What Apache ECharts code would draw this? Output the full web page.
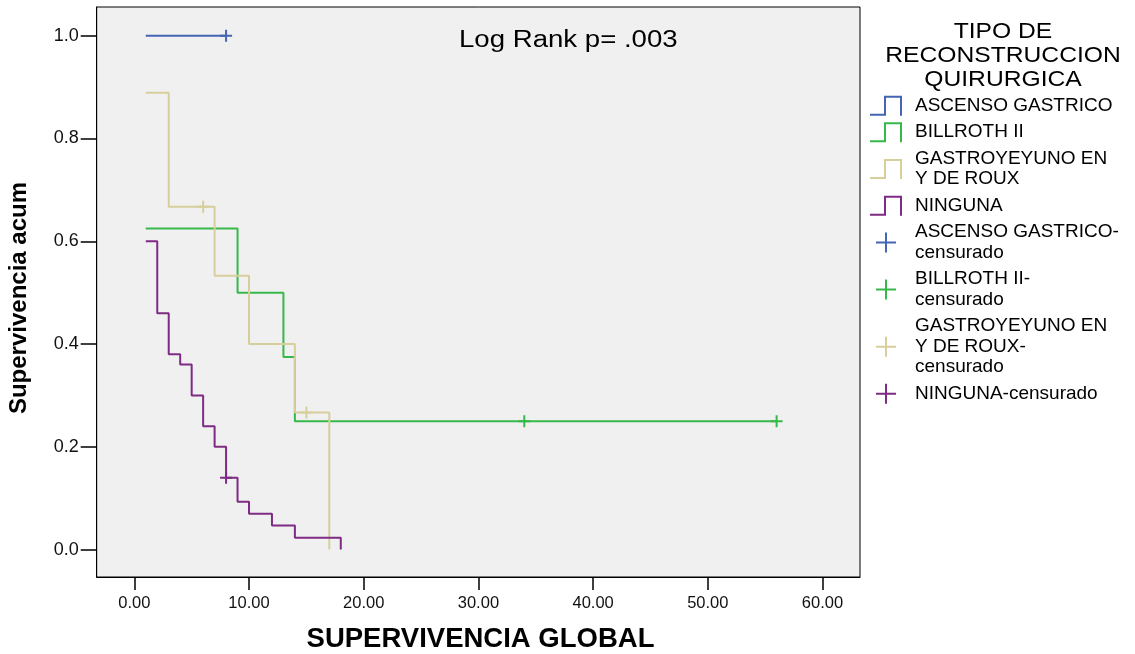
<!DOCTYPE html>
<html>
<head>
<meta charset="utf-8">
<title>Supervivencia por tipo de reconstrucción quirúrgica</title>
<script src="https://cdn.jsdelivr.net/npm/echarts@6/dist/echarts.min.js"></script>
<style>
  html, body { margin: 0; padding: 0; background: #ffffff; }
  #chart { width: 1135px; height: 654px; }
</style>
</head>
<body>
<div id="chart"></div>
<script>
// Kaplan-Meier step curves: each time point starts a new survival level
const groupNames = ['ASCENSO GASTRICO', 'BILLROTH II', 'GASTROYEYUNO EN\nY DE ROUX', 'NINGUNA'];
const censorNames = ['ASCENSO GASTRICO-\ncensurado', 'BILLROTH II-\ncensurado', 'GASTROYEYUNO EN\nY DE ROUX-\ncensurado', 'NINGUNA-censurado'];

const ascensoTime = [1, 8];
const ascensoSurv = [1.0, 1.0];
const ascensoCensorTime = [8];
const ascensoCensorSurv = [1.0];

const billrothTime = [1, 9, 13, 14, 56];
const billrothSurv = [0.625, 0.5, 0.375, 0.25, 0.25];
const billrothCensorTime = [34, 56];
const billrothCensorSurv = [0.25, 0.25];

const rouxTime = [1, 3, 7, 10, 14, 17];
const rouxSurv = [0.889, 0.667, 0.533, 0.4, 0.267, 0];
const rouxCensorTime = [6, 15];
const rouxCensorSurv = [0.667, 0.267];

const ningunaTime = [1, 2, 3, 4, 5, 6, 7, 8, 9, 10, 12, 14, 18];
const ningunaSurv = [0.6, 0.46, 0.38, 0.36, 0.30, 0.24, 0.20, 0.14, 0.093, 0.07, 0.047, 0.023, 0];
const ningunaCensorTime = [8];
const ningunaCensorSurv = [0.14];

const xTicks = [0, 10, 20, 30, 40, 50, 60];
const yTicks = [0, 0.2, 0.4, 0.6, 0.8, 1.0];

const pValueText = 'Log Rank p= .003';
const legendTitle = 'TIPO DE\nRECONSTRUCCION\nQUIRURGICA';
const xTitle = 'SUPERVIVENCIA GLOBAL';
const yTitle = 'Supervivencia acum';

const colors = ['#4464b4', '#36b94a', '#d6cf9c', '#7d2b83'];
const FONT = '"Liberation Sans", Arial, Helvetica, sans-serif';

const curves = [
  [ascensoTime, ascensoSurv, ascensoCensorTime, ascensoCensorSurv],
  [billrothTime, billrothSurv, billrothCensorTime, billrothCensorSurv],
  [rouxTime, rouxSurv, rouxCensorTime, rouxCensorSurv],
  [ningunaTime, ningunaSurv, ningunaCensorTime, ningunaCensorSurv]
];

const zip = (a, b) => a.map((v, i) => [v, b[i]]);

// icons: step outline and censor cross, padded to a 40x20 box
const stepIcon = 'path://M0,18L14,18L14,0L32,0L32,20L30,20L30,2L16,2L16,20L0,20Z M0,0L0.01,0L0,0.01Z M40,20L39.99,20L40,19.99Z';
const plusIcon = 'path://M15,0L17,0L17,9L26,9L26,11L17,11L17,20L15,20L15,11L6,11L6,9L15,9Z M0,0L0.01,0L0,0.01Z M40,20L39.99,20L40,19.99Z';
const plusMark = 'path://M5,0L7,0L7,5L12,5L12,7L7,7L7,12L5,12L5,7L0,7L0,5L5,5Z';

const series = [];
curves.forEach((c, i) => {
  series.push({
    name: groupNames[i],
    type: 'line',
    step: 'end',
    data: zip(c[0], c[1]),
    symbol: 'none',
    showSymbol: false,
    color: colors[i],
    lineStyle: { color: colors[i], width: 2 },
    itemStyle: { color: colors[i], opacity: 1 },
    z: 2
  });
});
curves.forEach((c, i) => {
  series.push({
    name: censorNames[i],
    type: 'scatter',
    data: zip(c[2], c[3]),
    symbol: plusMark,
    symbolSize: 12,
    color: colors[i],
    itemStyle: { color: colors[i], opacity: 1 },
    z: 3
  });
});

const legendData = groupNames.map(n => ({ name: n, icon: stepIcon }))
  .concat(censorNames.map(n => ({ name: n, icon: plusIcon })));

const chart = echarts.init(document.getElementById('chart'), null, { renderer: 'canvas' });
chart.setOption({
  animation: false,
  backgroundColor: '#ffffff',
  textStyle: { fontFamily: FONT },
  grid: {
    left: 96.7, top: 7, right: 275, bottom: 77,
    show: true,
    backgroundColor: '#f0f0f0',
    borderColor: '#000000',
    borderWidth: 1,
    containLabel: false,
    outerBoundsMode: 'none'
  },
  xAxis: {
    type: 'value',
    min: -3.28,
    max: 63.27,
    axisLine: { show: true, onZero: false, lineStyle: { color: '#000', width: 1 } },
    axisTick: { show: true, customValues: xTicks, length: 13, lineStyle: { color: '#000', width: 1.5 } },
    axisLabel: {
      customValues: xTicks,
      formatter: v => v.toFixed(2),
      fontSize: 16.5, fontFamily: FONT, color: '#111', margin: 18
    },
    splitLine: { show: false }
  },
  yAxis: {
    type: 'value',
    min: -0.0533,
    max: 1.0559,
    axisLine: { show: true, onZero: false, lineStyle: { color: '#000', width: 1 } },
    axisTick: { show: true, customValues: yTicks, length: 16, lineStyle: { color: '#000', width: 1.5 } },
    axisLabel: {
      customValues: yTicks,
      formatter: v => v.toFixed(1),
      fontSize: 18, fontFamily: FONT, color: '#111', margin: 18
    },
    splitLine: { show: false }
  },
  legend: {
    orient: 'vertical',
    left: 870,
    top: 95.5,
    align: 'left',
    itemWidth: 40,
    itemHeight: 20,
    itemGap: 6,
    padding: 0,
    selectedMode: false,
    data: legendData,
    itemStyle: { borderWidth: 0, opacity: 1 },
    textStyle: { fontSize: 19, lineHeight: 20.5, color: '#000', fontFamily: FONT }
  },
  graphic: [
    {
      type: 'text', x: 1003, y: 20, scaleX: 1.12,
      style: {
        text: legendTitle, textAlign: 'center', textVerticalAlign: 'top',
        fontSize: 22, lineHeight: 24, fontFamily: FONT, fill: '#000'
      }
    },
    {
      type: 'text', x: 459, y: 41, scaleX: 1.2,
      style: {
        text: pValueText, textAlign: 'left', textVerticalAlign: 'middle',
        fontSize: 23, fontFamily: FONT, fill: '#000'
      }
    },
    {
      type: 'text', x: 480.5, y: 639,
      style: {
        text: xTitle, textAlign: 'center', textVerticalAlign: 'middle',
        fontSize: 27.5, fontWeight: 'bold', fontFamily: FONT, fill: '#000'
      }
    },
    {
      type: 'text', x: 19, y: 298, rotation: Math.PI / 2,
      style: {
        text: yTitle, textAlign: 'center', textVerticalAlign: 'middle',
        fontSize: 24, fontWeight: 'bold', fontFamily: FONT, fill: '#000'
      }
    }
  ],
  series: series
});
</script>
</body>
</html>
